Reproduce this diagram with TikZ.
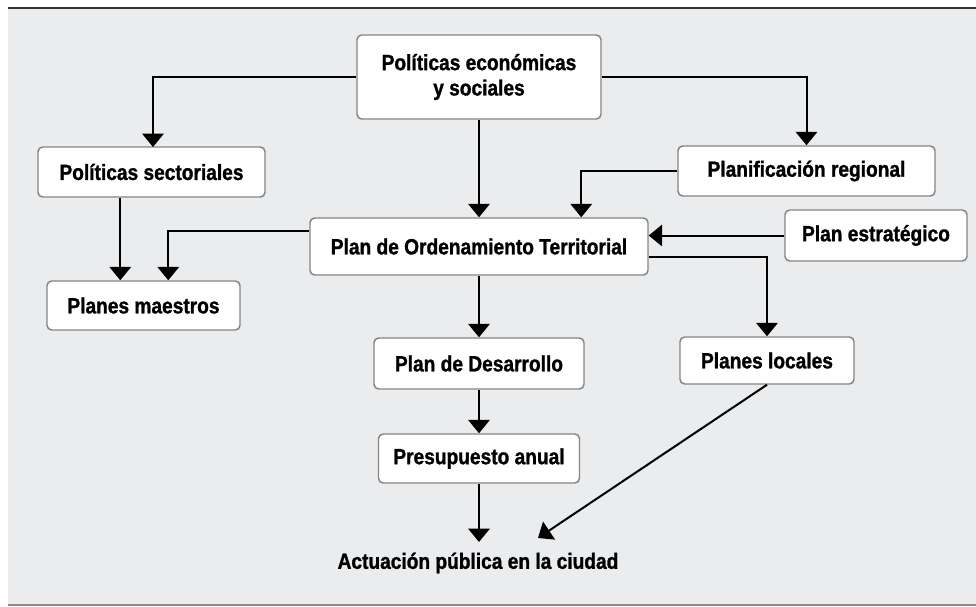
\documentclass[tikz,border=0pt]{standalone}
\usepackage{fontspec}
\newfontfamily\cf[FakeStretch=0.87,BoldFeatures={FakeBold=1.2}]{Liberation Sans}
\usetikzlibrary{arrows.meta,calc}
\definecolor{bg}{HTML}{EBECEE}
\definecolor{bord}{HTML}{858585}
\begin{document}
\begin{tikzpicture}[x=0.75pt,y=-0.75pt,
  box/.style={draw=bord,line width=1.1pt,fill=white,rounded corners=3.5pt,inner sep=0pt,
    font=\cf\bfseries\fontsize{16.5}{19}\selectfont,align=center},
  sz/.style 2 args={minimum width=0.75*#1pt,minimum height=0.75*#2pt},
  conn/.style={line width=1.5pt,-{Triangle[width=16pt,length=10pt]}}]
\useasboundingbox (0,0) rectangle (976,607);
\fill[bg] (8,8) rectangle (976,605);
\draw[line width=1.6pt,color=black!80] (8,8) -- (976,8);
\draw[line width=1.6pt,color=black!45] (8,605) -- (976,605);

\node[box,sz={244}{84}] (top) at (479,77) {Políticas económicas\\y sociales};
\node[box,sz={227}{50}] (sect) at (151.5,172) {Políticas sectoriales};
\node[box,sz={257}{50}] (reg) at (806.5,171) {Planificación regional};
\node[box,sz={182}{51}] (estr) at (876,235.5) {Plan estratégico};
\node[box,sz={338}{57}] (pot) at (479,246.5) {Plan de Ordenamiento Territorial};
\node[box,sz={193}{49}] (maes) at (143.5,305.5) {Planes maestros};
\node[box,sz={210}{51}] (des) at (479,363.5) {Plan de Desarrollo};
\node[box,sz={201}{49}] (pres) at (479,458.5) {Presupuesto anual};
\node[box,sz={174}{47}] (loc) at (767,360.5) {Planes locales};
\node[font=\cf\bfseries\fontsize{16.5}{19}\selectfont,inner sep=0pt] (act) at (478,563) {Actuación pública en la ciudad};

\coordinate (actin) at (479,542);
\coordinate (actdiag) at (538,538);

\draw[conn] (top.west) -| (153,147);
\draw[conn] (top.east) -| (reg.north);
\draw[conn] (top.south) -- (pot.north);
\draw[conn] (reg.west) -| ($(pot.north west)+(272,0)$);
\draw[conn] (estr.west) -- (estr.west -| pot.east);
\draw[conn] ($(sect.south west)+(83,0)$) -- ($(maes.north west)+(74,0)$);
\draw[conn] ($(pot.north west)+(0,14)$) -| ($(maes.north west)+(122,0)$);
\draw[conn] ($(pot.south east)+(0,-19)$) -| (loc.north);
\draw[conn] (pot.south) -- (des.north);
\draw[conn] (des.south) -- (pres.north);
\draw[conn] (pres.south) -- (actin);
\draw[conn] (loc.south) -- (actdiag);
\end{tikzpicture}
\end{document}
